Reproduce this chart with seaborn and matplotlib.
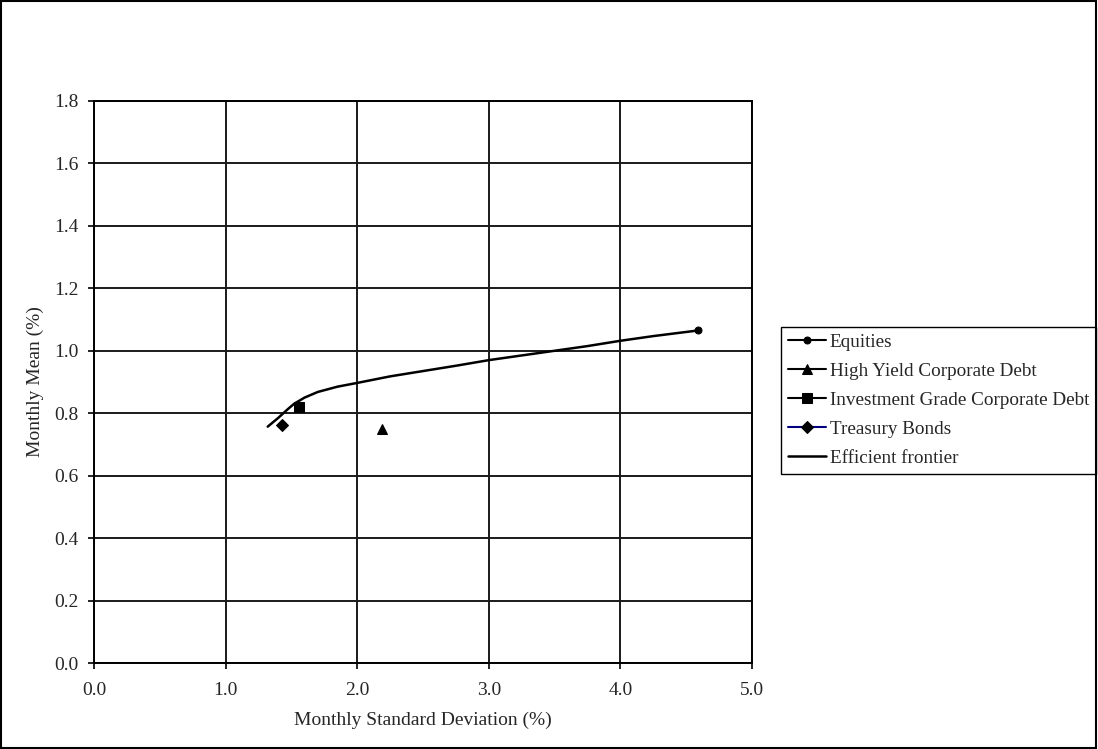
import matplotlib
matplotlib.use("Agg")
import matplotlib.pyplot as plt
import seaborn as sns
import pandas as pd
from matplotlib.patches import Rectangle

# Asset classes: monthly standard deviation (%) and monthly mean (%)
assets = ["Equities", "High Yield Corporate Debt",
          "Investment Grade Corporate Debt", "Treasury Bonds"]
asset_sd = [4.59, 2.19, 1.56, 1.43]
asset_mean = [1.065, 0.75, 0.82, 0.762]
asset_markers = ["o", "^", "s", "D"]
asset_marker_sizes = [5, 7, 7, 6]
asset_line_colors = ["black", "black", "black", "#000080"]

# Efficient frontier
frontier_sd = [1.32, 1.40, 1.47, 1.52, 1.60, 1.70, 1.85, 2.00, 2.25, 2.50,
               2.75, 3.00, 3.25, 3.50, 3.75, 4.00, 4.25, 4.59]
frontier_mean = [0.757, 0.785, 0.812, 0.830, 0.850, 0.868, 0.885, 0.897,
                 0.918, 0.935, 0.952, 0.970, 0.985, 1.000, 1.015, 1.032,
                 1.047, 1.065]

x_ticks = [0, 1, 2, 3, 4, 5]
y_ticks = [0.0, 0.2, 0.4, 0.6, 0.8, 1.0, 1.2, 1.4, 1.6, 1.8]

FS = 14
LEG_FS = 13.8

sns.set_style("white")
plt.rcParams["font.family"] = ["Liberation Serif", "DejaVu Serif"]
plt.rcParams["font.size"] = FS

fig = plt.figure(figsize=(10.98, 7.49), dpi=100)
ax = fig.add_axes([0.0856, 0.1148, 0.5993, 0.7504])

for name, sd, mu, mk, ms, lc in zip(assets, asset_sd, asset_mean,
                                    asset_markers, asset_marker_sizes,
                                    asset_line_colors):
    df = pd.DataFrame({"sd": [sd], "mean": [mu]})
    sns.lineplot(data=df, x="sd", y="mean", ax=ax, marker=mk,
                 markersize=ms, color=lc, markerfacecolor="black",
                 markeredgecolor="black", linewidth=1.5, label=name)

frontier = pd.DataFrame({"sd": frontier_sd, "mean": frontier_mean})
sns.lineplot(data=frontier, x="sd", y="mean", ax=ax, color="black",
             linewidth=1.8, label="Efficient frontier", sort=False)

ax.set_xlim(0, 5)
ax.set_ylim(0, 1.8)
ax.set_xticks(x_ticks)
ax.set_yticks(y_ticks)
ax.set_xticklabels([f"{v:.1f}" for v in x_ticks])
ax.set_yticklabels([f"{v:.1f}" for v in y_ticks])
ax.grid(True, color="#1a1a1a", linewidth=1.4)
ax.set_axisbelow(True)
ax.tick_params(axis="both", which="major", bottom=True, left=True,
               direction="out", length=4, width=1.2, color="black",
               labelsize=FS)
ax.tick_params(axis="x", pad=10)
ax.tick_params(axis="y", pad=7)
for s in ax.spines.values():
    s.set_color("black")
    s.set_linewidth(1.4)

ax.set_xlabel("Monthly Standard Deviation (%)", fontsize=FS, labelpad=9)
ax.set_ylabel("Monthly Mean (%)", fontsize=FS, labelpad=7)

leg = ax.legend(loc="upper left", bbox_to_anchor=(0.7113, 0.5634),
                bbox_transform=fig.transFigure, frameon=True, fancybox=False,
                framealpha=1, edgecolor="black", fontsize=LEG_FS,
                handlelength=2.0, handletextpad=0.2, borderpad=0.35,
                labelspacing=0.6, borderaxespad=0)
leg.get_frame().set_linewidth(1.0)

fig.add_artist(Rectangle((0.001, 0.001), 0.997, 0.997, transform=fig.transFigure,
                         fill=False, edgecolor="black", linewidth=1.5))

fig.savefig("out.png", dpi=100, facecolor="white")
